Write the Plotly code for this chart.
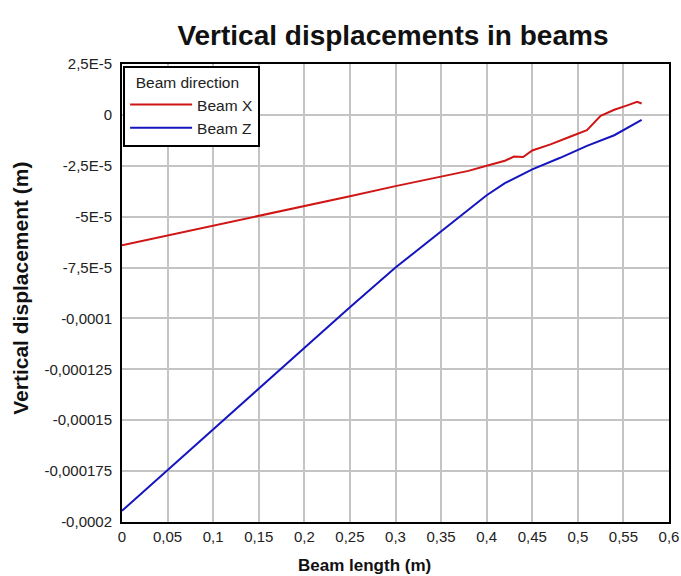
import plotly.graph_objects as go

# Data
x_red = [0, 0.05, 0.1, 0.15, 0.2, 0.25, 0.3, 0.35, 0.38, 0.4, 0.42, 0.43, 0.44, 0.45, 0.47, 0.49, 0.51, 0.525, 0.54, 0.555, 0.565, 0.57]
y_red = [-6.4e-5, -5.92e-5, -5.45e-5, -4.98e-5, -4.5e-5, -4.0e-5, -3.5e-5, -3.02e-5, -2.75e-5, -2.5e-5, -2.25e-5, -2.05e-5, -2.07e-5, -1.75e-5, -1.45e-5, -1.1e-5, -0.75e-5, -0.05e-5, 0.25e-5, 0.48e-5, 0.64e-5, 0.56e-5]

x_blue = [0, 0.05, 0.1, 0.15, 0.2, 0.25, 0.3, 0.35, 0.4, 0.42, 0.45, 0.48, 0.51, 0.54, 0.57]
y_blue = [-19.45e-5, -17.45e-5, -15.45e-5, -13.45e-5, -11.45e-5, -9.45e-5, -7.5e-5, -5.72e-5, -3.95e-5, -3.35e-5, -2.68e-5, -2.12e-5, -1.52e-5, -1.0e-5, -0.25e-5]

y_tickvals = [2.5e-5, 0, -2.5e-5, -5e-5, -7.5e-5, -1e-4, -1.25e-4, -1.5e-4, -1.75e-4, -2e-4]
y_ticktext = ["2,5E-5", "0", "-2,5E-5", "-5E-5", "-7,5E-5", "-0,0001", "-0,000125", "-0,00015", "-0,000175", "-0,0002"]
x_tickvals = [0, 0.05, 0.1, 0.15, 0.2, 0.25, 0.3, 0.35, 0.4, 0.45, 0.5, 0.55, 0.6]
x_ticktext = ["0", "0,05", "0,1", "0,15", "0,2", "0,25", "0,3", "0,35", "0,4", "0,45", "0,5", "0,55", "0,6"]

FONT = "Liberation Sans, Arial, sans-serif"

fig = go.Figure()
fig.add_trace(go.Scatter(x=x_red, y=y_red, mode="lines", name="Beam X",
                         line=dict(color="#d01515", width=2)))
fig.add_trace(go.Scatter(x=x_blue, y=y_blue, mode="lines", name="Beam Z",
                         line=dict(color="#1515c0", width=2)))

fig.update_layout(
    width=681, height=576,
    margin=dict(l=122, r=12, t=64, b=54, autoexpand=False),
    paper_bgcolor="white", plot_bgcolor="white",
    font=dict(family=FONT, size=15, color="#222"),
    title=dict(text="<b>Vertical displacements in beams</b>", x=0.577, xanchor="center",
               y=0.939, yanchor="middle", font=dict(family=FONT, size=28, color="#111")),
    showlegend=True,
    legend=dict(x=0.002, y=0.996, xanchor="left", yanchor="top",
                bgcolor="white", bordercolor="black", borderwidth=2,
                title=dict(text="  Beam direction", side="top", font=dict(family=FONT, size=15.5)),
                font=dict(family=FONT, size=15.5), tracegroupgap=0, itemwidth=62),
    annotations=[
        dict(text="<b>Vertical displacement (m)</b>", xref="paper", yref="paper",
             x=-0.185, y=0.511, textangle=-90, showarrow=False,
             xanchor="center", yanchor="middle", font=dict(family=FONT, size=21, color="#111")),
        dict(text="<b>Beam length (m)</b>", xref="paper", yref="paper",
             x=0.444, y=-0.094, showarrow=False,
             xanchor="center", yanchor="middle", font=dict(family=FONT, size=17, color="#111")),
    ],
)
fig.update_xaxes(range=[0, 0.6], tickvals=x_tickvals, ticktext=x_ticktext, automargin=False,
                 showgrid=True, gridcolor="#c4c4c4", gridwidth=2,
                 showline=True, linecolor="black", linewidth=2, mirror=True,
                 zeroline=False, ticks="", tickfont=dict(size=15))
fig.update_yaxes(range=[-2e-4, 2.5e-5], tickvals=y_tickvals, ticktext=y_ticktext, automargin=False,
                 showgrid=True, gridcolor="#c4c4c4", gridwidth=2,
                 showline=True, linecolor="black", linewidth=2, mirror=True,
                 zeroline=False, ticks="", tickfont=dict(size=15), ticklabelstandoff=5)

fig.write_html("out.html", config={"displayModeBar": False},
               post_script="document.body.style.margin='0';document.body.style.overflow='hidden';")
